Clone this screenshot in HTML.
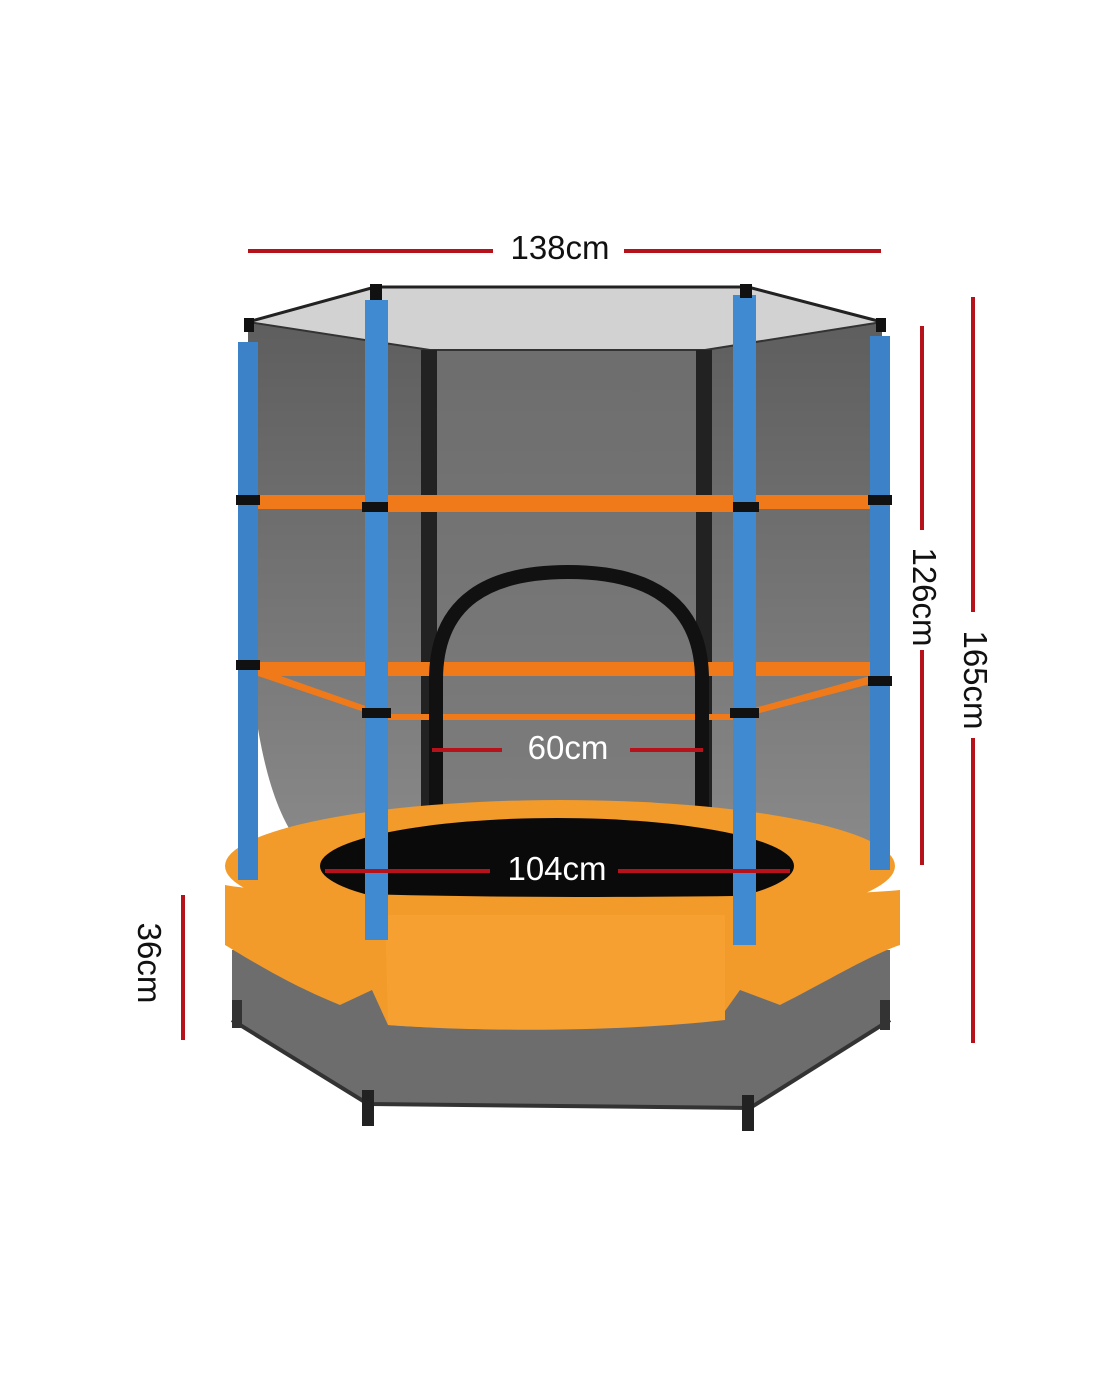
<!DOCTYPE html>
<html><head><meta charset="utf-8"><style>
html,body{margin:0;padding:0;background:#fff;}
svg{display:block;}
text{font-family:"Liberation Sans",sans-serif;}
</style></head><body>
<svg width="1100" height="1375" viewBox="0 0 1100 1375" xmlns="http://www.w3.org/2000/svg">
<defs>
<linearGradient id="ng" x1="0" y1="0" x2="0" y2="1">
<stop offset="0" stop-color="#5e5e5e"/><stop offset="1" stop-color="#8a8a8a"/>
</linearGradient>
</defs>
<rect width="1100" height="1375" fill="#fff"/>
<polygon points="248,322 375,287 748,287 882,322 705,350 430,350" fill="#d2d2d2"/>
<path d="M248,322 L430,350 L705,350 L882,322 L882,860 C860,830 760,808 560,805 C380,808 320,830 300,845 C265,800 255,720 248,650 Z" fill="url(#ng)"/>
<path d="M430,350 L705,350 L705,820 L430,820 Z" fill="#777" opacity="0.6"/>
<polyline points="248,322 375,287 748,287 882,322" fill="none" stroke="#222" stroke-width="3"/>
<polyline points="248,322 430,350 705,350 882,322" fill="none" stroke="#333" stroke-width="2"/>
<rect x="421" y="350" width="16" height="530" fill="#222"/>
<rect x="696" y="350" width="16" height="530" fill="#222"/>
<rect x="258" y="495" width="612" height="14" fill="#f07a1a"/>
<polygon points="258,662 870,662 870,676 258,676" fill="#f07a1a"/>
<polygon points="258,668 388,714 733,714 870,676 870,684 733,720 388,720 258,676" fill="#f07a1a"/>
<path d="M436,870 L436,680 C436,600 490,572 568,572 C646,572 702,600 702,680 L702,870" fill="none" stroke="#111" stroke-width="14"/>
<!-- bottom enclosure -->
<polygon points="232,950 890,950 890,1020 750,1108 368,1104 232,1020" fill="#6d6d6d"/>
<polyline points="232,1020 368,1104 750,1108 890,1020" fill="none" stroke="#333" stroke-width="4"/>
<rect x="232" y="1000" width="10" height="28" fill="#333"/>
<rect x="880" y="1000" width="10" height="30" fill="#333"/>
<rect x="362" y="1090" width="12" height="36" fill="#222"/>
<rect x="742" y="1095" width="12" height="36" fill="#222"/>
<!-- orange pad ring -->
<ellipse cx="560" cy="866" rx="335" ry="66" fill="#f29a2a"/>
<ellipse cx="557" cy="866" rx="237" ry="48" fill="#0a0a0a"/>
<path d="M225,885 C300,900 800,900 900,890 L900,945 C870,955 820,985 780,1005 L740,990 L720,1018 C620,1030 480,1032 388,1025 L372,990 L340,1005 C290,985 250,960 225,945 Z" fill="#f29a2a"/>
<path d="M385,915 L725,915 L725,1020 C620,1032 480,1032 388,1025 Z" fill="#f5a030"/>
<rect x="238" y="342" width="20" height="538" fill="#3c82c8"/>
<rect x="870" y="336" width="20" height="534" fill="#3c82c8"/>
<rect x="365" y="300" width="23" height="640" fill="#3f8ad0"/>
<rect x="733" y="295" width="23" height="650" fill="#3f8ad0"/>
<g fill="#111">
<rect x="236" y="495" width="24" height="10"/><rect x="868" y="495" width="24" height="10"/>
<rect x="362" y="502" width="29" height="10"/><rect x="730" y="502" width="29" height="10"/>
<rect x="236" y="660" width="24" height="10"/><rect x="868" y="676" width="24" height="10"/>
<rect x="362" y="708" width="29" height="10"/><rect x="730" y="708" width="29" height="10"/>
<rect x="244" y="318" width="10" height="14"/><rect x="876" y="318" width="10" height="14"/>
<rect x="370" y="284" width="12" height="16"/><rect x="740" y="284" width="12" height="14"/>
</g>
<rect x="388" y="498" width="345" height="14" fill="#f07a1a"/>
<g stroke="#b5121b" stroke-width="4">
<line x1="248" y1="251" x2="493" y2="251"/><line x1="624" y1="251" x2="881" y2="251"/>
<line x1="922" y1="326" x2="922" y2="530"/><line x1="922" y1="650" x2="922" y2="865"/>
<line x1="973" y1="297" x2="973" y2="612"/><line x1="973" y1="738" x2="973" y2="1043"/>
<line x1="183" y1="895" x2="183" y2="1040"/>
<line x1="432" y1="750" x2="502" y2="750"/><line x1="630" y1="750" x2="703" y2="750"/>
<line x1="325" y1="871" x2="490" y2="871"/><line x1="618" y1="871" x2="790" y2="871"/>
</g>
<g font-size="33" text-anchor="middle">
<text x="560" y="259" fill="#111">138cm</text>
<text x="568" y="759" fill="#fff">60cm</text>
<text x="557" y="880" fill="#fff">104cm</text>
<text transform="translate(913,597) rotate(90)" fill="#111">126cm</text>
<text transform="translate(964,680) rotate(90)" fill="#111">165cm</text>
<text transform="translate(138,963) rotate(90)" fill="#111">36cm</text>
</g>
</svg>
</body></html>
